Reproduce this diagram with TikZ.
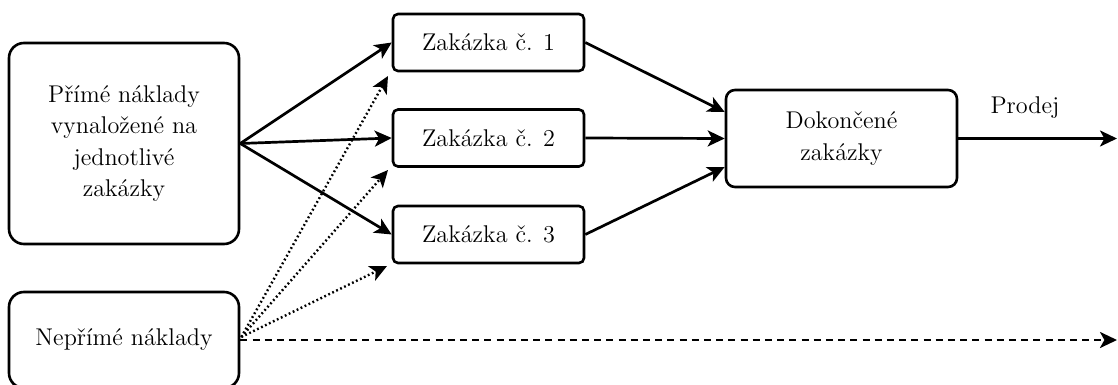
\documentclass[tikz,border=0pt]{standalone}
\usetikzlibrary{arrows.meta,calc}
\begin{document}
\begin{tikzpicture}[x=0.5pt,y=-0.5pt,
  box/.style={draw,line width=1.3pt,align=center,inner sep=0pt,
    font=\fontsize{12.1pt}{15.8pt}\selectfont},
  conn/.style={line width=1.35pt,-{Stealth[length=8.5pt,width=8pt,inset=2.2pt]}},
  dotconn/.style={line width=1.2pt,dash pattern=on 0.9pt off 1.3pt,-{Stealth[length=8.5pt,width=8pt,inset=2.2pt]}},
  dashconn/.style={line width=1.4pt,dash pattern=on 3.5pt off 2.6pt,-{Stealth[length=8.5pt,width=8pt,inset=2.2pt]}},
  lbl/.style={font=\fontsize{12.1pt}{15.8pt}\selectfont,inner sep=0pt}]
\useasboundingbox (0,0) rectangle (1118,385);
\node[box,rounded corners=7.5pt,minimum width=115pt,minimum height=100.5pt] (A) at (124,143.5)
  {Přímé náklady\\vynaložené na\\jednotlivé\\zakázky};
\node[box,rounded corners=7.5pt,minimum width=115pt,minimum height=48pt] (N) at (124,340) {Nepřímé náklady};
\node[box,rounded corners=2.5pt,minimum width=95.5pt,minimum height=28.5pt] (Z1) at (488.5,42.5) {Zakázka č. 1};
\node[box,rounded corners=2.5pt,minimum width=95.5pt,minimum height=28.5pt] (Z2) at (488.5,138) {Zakázka č. 2};
\node[box,rounded corners=2.5pt,minimum width=95.5pt,minimum height=28.5pt] (Z3) at (488.5,234.5) {Zakázka č. 3};
\node[box,rounded corners=4.5pt,minimum width=115.5pt,minimum height=48.5pt] (D) at (841.5,138.5) {Dokončené\\zakázky};
\coordinate (P) at (1117,138.5);
\coordinate (Q) at (1117,340);
\coordinate (d1) at (388,76);
\coordinate (d2) at (388,170);
\coordinate (d3) at (387,266);
\coordinate (ns) at ($(N.east)+(1,-3)$);
\draw[conn] (A.east) -- (Z1.west);
\draw[conn] (A.east) -- (Z2.west);
\draw[conn] (A.east) -- (Z3.west);
\draw[conn] (Z1.east) -- ($(D.west)+(0,-26.5)$);
\draw[conn] (Z2.east) -- (D.west);
\draw[conn] (Z3.east) -- ($(D.west)+(0,28.5)$);
\draw[conn] (D.east) -- (P);
\node[lbl] (prodej) at (1025,108) {Prodej};
\draw[dotconn] (ns) -- (d1);
\draw[dotconn] (ns) -- (d2);
\draw[dotconn] (ns) -- (d3);
\draw[dashconn] (N.east) -- (Q);
\end{tikzpicture}
\end{document}
